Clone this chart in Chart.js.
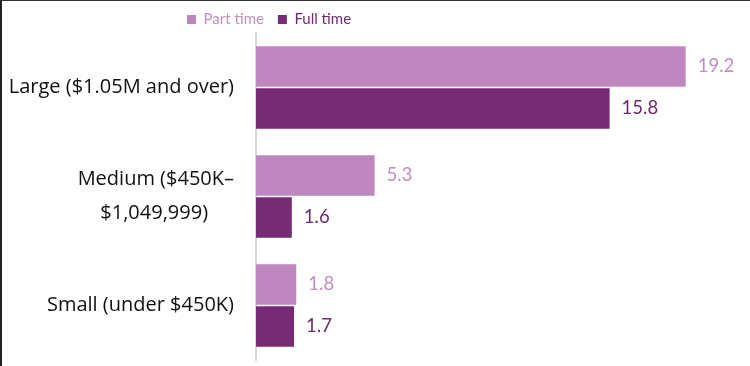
<!DOCTYPE html>
<html><head><meta charset="utf-8">
<script src="https://cdn.jsdelivr.net/npm/chart.js@4"></script>
<style>
html,body{margin:0;padding:0;background:#fff;}
#wrap{position:relative;width:750px;height:366px;overflow:hidden;background:#fff;}
#wrap canvas{position:absolute;left:0;top:0;}
.bt{position:absolute;left:0;top:0;width:750px;height:1px;background:#333;}
.bl{position:absolute;left:0;top:0;width:2px;height:366px;background:#222;}
</style></head><body>
<div id="wrap"><canvas id="c" width="750" height="366"></canvas><div class="bt"></div><div class="bl"></div></div>
<script>
const categories = ["Large ($1.05M and over)", ["Medium ($450K\u2013", "$1,049,999)"], "Small (under $450K)"];
const seriesNames = ["Part time", "Full time"];
const partTime = [19.2, 5.3, 1.8];
const fullTime = [15.8, 1.6, 1.7];

const LABEL_FONT = '"Open Sans", "Noto Sans", sans-serif';
const FONT = 'Lato, "Open Sans", sans-serif';
const barColors = ['#BF87BF', '#772B74'];
const textColors = ['#C18EC1', '#6E2A6C'];

const mctx = document.createElement('canvas').getContext('2d');
function centerLines(lbl) {
  if (!Array.isArray(lbl)) return lbl;
  mctx.font = '20px ' + LABEL_FONT;
  const ws = lbl.map(s => mctx.measureText(s).width);
  const max = Math.max(...ws);
  const sp = mctx.measureText('\u00a0').width;
  return lbl.map((s, i) => s + '\u00a0'.repeat(Math.round((max - ws[i]) / 2 / sp)));
}

const legendShift = {
  id: 'legendShift',
  beforeLayout(chart) {
    const lg = chart.legend;
    if (lg && !lg._patched) {
      const orig = lg.fit;
      lg.fit = function () { orig.call(this); this.height = 33; };
      lg._patched = true;
    }
  },
  afterLayout(chart) {
    const lg = chart.legend;
    if (!lg || !lg.lineWidths) return;
    const pad = lg.options.labels.padding;
    const start = (lg.left + pad + lg.right - lg.lineWidths[0]) / 2;
    const dx = 187 - start;
    lg.left += dx; lg.right += dx;
    lg.top -= 2; lg.bottom -= 2;
  }
};

const valueLabels = {
  id: 'valueLabels',
  afterDatasetsDraw(chart) {
    const ctx = chart.ctx;
    chart.data.datasets.forEach((ds, di) => {
      const meta = chart.getDatasetMeta(di);
      meta.data.forEach((bar, i) => {
        ctx.save();
        ctx.font = '18.5px ' + FONT;
        ctx.fillStyle = textColors[di];
        ctx.textBaseline = 'middle';
        ctx.textAlign = 'left';
        ctx.fillText(ds.data[i].toFixed(1), bar.x + 12, bar.y);
        ctx.restore();
      });
    });
  }
};

new Chart(document.getElementById('c'), {
  type: 'bar',
  data: {
    labels: categories,
    datasets: [
      { label: seriesNames[0], data: partTime, backgroundColor: barColors[0], borderWidth: 0,
        categoryPercentage: 0.77, barPercentage: 0.96 },
      { label: seriesNames[1], data: fullTime, backgroundColor: barColors[1], borderWidth: 0,
        categoryPercentage: 0.77, barPercentage: 0.96 }
    ]
  },
  options: {
    indexAxis: 'y',
    responsive: false,
    animation: false,
    devicePixelRatio: 1,
    layout: { padding: { top: 0, right: 24, bottom: 6, left: 0 } },
    plugins: {
      tooltip: { enabled: false },
      legend: {
        position: 'top',
        align: 'center',
        labels: {
          boxWidth: 9, boxHeight: 9, padding: 14,
          font: { family: FONT, size: 15 },
          generateLabels(chart) {
            const items = Chart.defaults.plugins.legend.labels.generateLabels(chart);
            items.forEach((it, i) => { it.fontColor = textColors[i]; it.lineWidth = 0; it.strokeStyle = 'rgba(0,0,0,0)'; });
            return items;
          }
        }
      }
    },
    scales: {
      x: { display: false, min: 0, max: 21 },
      y: {
        afterFit(scale) { scale.width = 256; scale.paddingTop = 0; scale.paddingBottom = 0; },
        grid: { display: false, drawTicks: false },
        border: { display: true, color: '#D9D9D9', width: 2 },
        ticks: {
          padding: 22,
          color: '#111',
          font: { family: LABEL_FONT, size: 20, lineHeight: 1.7 },
          callback(v, i) { return centerLines(categories[i]); }
        }
      }
    }
  },
  plugins: [legendShift, valueLabels]
});
</script>
</body></html>
